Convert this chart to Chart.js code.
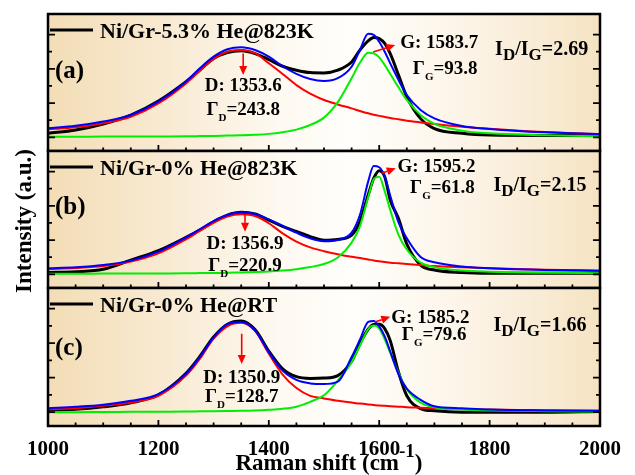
<!DOCTYPE html>
<html>
<head>
<meta charset="utf-8">
<script src="https://cdn.jsdelivr.net/npm/chart.js@4/dist/chart.umd.min.js"></script>
<style>
  html, body { margin: 0; padding: 0; background: #fff; }
  #wrap { position: relative; width: 635px; height: 475px; }
  #wrap canvas { position: absolute; left: 0; top: 0; }
</style>
</head>
<body>
<div id="wrap">
  <canvas id="panelA" width="635" height="475"></canvas>
  <canvas id="panelB" width="635" height="475"></canvas>
  <canvas id="panelC" width="635" height="475"></canvas>
</div>
<script>
// Raman shift sampling (cm-1)
const ramanShift = [1000, 1050, 1100, 1150, 1200, 1250, 1275, 1300, 1325, 1350, 1375, 1400, 1425, 1450, 1475,
  1500, 1525, 1550, 1565, 1580, 1590, 1600, 1610, 1620, 1635, 1650, 1675, 1700, 1750, 1800, 1900, 2000];

// (a) Ni/Gr-5.3% He@823K
const measA = [0.23, 0.43, 0.78, 1.30, 2.12, 3.25, 3.92, 4.60, 4.95, 5.05, 4.89, 4.54, 4.15, 3.92, 3.78,
  3.76, 3.92, 4.40, 5.09, 5.63, 5.83, 5.77, 5.48, 4.89, 3.63, 2.36, 1.09, 0.51, 0.23, 0.13, 0.11, 0.11];
const fitDA = [0.47, 0.58, 0.82, 1.20, 1.98, 3.15, 3.89, 4.57, 5.00, 5.10, 4.91, 4.32, 3.70, 3.05, 2.55,
  2.18, 1.92, 1.69, 1.54, 1.40, 1.32, 1.25, 1.19, 1.13, 1.05, 0.97, 0.87, 0.78, 0.62, 0.50, 0.31, 0.19];
const fitGA = [0.03, 0.03, 0.04, 0.04, 0.05, 0.06, 0.07, 0.08, 0.10, 0.12, 0.15, 0.20, 0.30, 0.45, 0.72,
  1.15, 2.05, 3.45, 4.35, 4.94, 4.90, 4.67, 4.22, 3.70, 2.92, 2.18, 1.30, 0.78, 0.39, 0.23, 0.12, 0.06];
const fitSumA = [0.53, 0.67, 0.92, 1.30, 2.08, 3.25, 4.03, 4.71, 5.14, 5.26, 5.10, 4.71, 4.15, 3.70, 3.40,
  3.29, 3.45, 4.12, 5.10, 6.04, 5.98, 5.58, 5.00, 4.32, 3.35, 2.47, 1.60, 1.11, 0.66, 0.49, 0.29, 0.19];

// (b) Ni/Gr-0% He@823K
const measB = [0.10, 0.15, 0.29, 0.83, 1.38, 2.16, 2.59, 3.07, 3.46, 3.62, 3.52, 3.17, 2.80, 2.50, 2.20,
  1.99, 2.04, 2.29, 3.07, 4.63, 5.60, 6.05, 5.70, 4.34, 3.25, 1.77, 0.54, 0.25, 0.10, 0.06, 0.06, 0.06];
const fitDB = [0.31, 0.37, 0.48, 0.74, 1.22, 2.04, 2.53, 3.01, 3.37, 3.50, 3.40, 2.98, 2.39, 1.91, 1.57,
  1.35, 1.17, 1.02, 0.95, 0.87, 0.81, 0.76, 0.72, 0.68, 0.64, 0.60, 0.54, 0.48, 0.41, 0.35, 0.27, 0.21];
const fitGB = [0.03, 0.03, 0.04, 0.04, 0.05, 0.06, 0.07, 0.08, 0.09, 0.11, 0.13, 0.16, 0.22, 0.30, 0.42,
  0.60, 0.98, 1.85, 2.80, 4.50, 5.55, 5.70, 4.85, 3.75, 2.30, 1.45, 0.68, 0.42, 0.22, 0.15, 0.09, 0.06];
const fitSumB = [0.35, 0.41, 0.54, 0.80, 1.32, 2.16, 2.63, 3.11, 3.46, 3.62, 3.52, 3.21, 2.82, 2.43, 2.10,
  1.93, 2.00, 2.43, 3.46, 5.41, 6.32, 6.25, 5.70, 4.59, 3.03, 2.10, 1.01, 0.70, 0.45, 0.35, 0.25, 0.21];

// (c) Ni/Gr-0% He@RT
const measC = [0.12, 0.17, 0.31, 0.54, 1.01, 2.26, 3.23, 4.36, 5.10, 5.29, 4.79, 3.54, 2.51, 2.06, 1.96,
  1.98, 2.12, 2.95, 3.97, 4.81, 5.08, 5.10, 4.85, 4.15, 2.32, 0.95, 0.21, 0.08, 0.00, 0.00, 0.00, 0.04];
const fitDC = [0.17, 0.23, 0.37, 0.56, 0.95, 2.12, 3.09, 4.26, 4.98, 5.18, 4.71, 3.39, 2.18, 1.40, 0.95,
  0.80, 0.66, 0.56, 0.50, 0.45, 0.42, 0.39, 0.37, 0.35, 0.32, 0.29, 0.26, 0.23, 0.17, 0.15, 0.12, 0.08];
const fitGC = [0.00, 0.00, 0.01, 0.02, 0.03, 0.04, 0.05, 0.06, 0.07, 0.08, 0.10, 0.14, 0.20, 0.32, 0.60,
  0.98, 1.83, 2.90, 3.85, 4.81, 5.02, 4.86, 4.22, 3.44, 2.28, 1.34, 0.56, 0.29, 0.15, 0.10, 0.06, 0.04];
const fitSumC = [0.23, 0.31, 0.43, 0.66, 1.05, 2.22, 3.19, 4.32, 5.10, 5.23, 4.75, 3.48, 2.41, 1.87, 1.67,
  1.63, 1.77, 3.20, 4.20, 5.23, 5.29, 4.98, 4.40, 3.52, 2.20, 1.36, 0.72, 0.35, 0.23, 0.15, 0.10, 0.08];

// fitted peak parameters
const sampleNames = ["Ni/Gr-5.3% He@823K", "Ni/Gr-0% He@823K", "Ni/Gr-0% He@RT"];
const panelTags = ["(a)", "(b)", "(c)"];
const dPeak = [1353.6, 1356.9, 1350.9];
const dFwhm = [243.8, 220.9, 128.7];
const gPeak = [1583.7, 1595.2, 1585.2];
const gFwhm = [93.8, 61.8, 79.6];
const idIg = [2.69, 2.15, 1.66];

const xTicks = [1000, 1200, 1400, 1600, 1800, 2000];

const SERIF = '"Liberation Serif", "Times New Roman", serif';
const font = (size) => "bold " + size + "px " + SERIF;

function pts(ys) {
  return ramanShift.map((x, i) => ({ x: x, y: ys[i] }));
}

// width of a run of [text, size, dy] pieces
function richWidth(ctx, parts) {
  let w = 0;
  parts.forEach((p) => { ctx.font = font(p[1]); w += ctx.measureText(p[0]).width; });
  return w;
}

function richText(ctx, parts, x, y, align) {
  let cx = align === "center" ? x - richWidth(ctx, parts) / 2 : x;
  parts.forEach((p) => {
    ctx.font = font(p[1]);
    ctx.fillText(p[0], cx, y + (p[2] || 0));
    cx += ctx.measureText(p[0]).width;
  });
}

function arrow(ctx, x1, y1, x2, y2) {
  const ang = Math.atan2(y2 - y1, x2 - x1);
  const head = 9, half = 4;
  const bx = x2 - head * Math.cos(ang), by = y2 - head * Math.sin(ang);
  ctx.strokeStyle = "#ff0000";
  ctx.fillStyle = "#ff0000";
  ctx.lineWidth = 1.6;
  ctx.beginPath();
  ctx.moveTo(x1, y1);
  ctx.lineTo(bx, by);
  ctx.stroke();
  ctx.beginPath();
  ctx.moveTo(x2, y2);
  ctx.lineTo(bx + half * Math.sin(ang), by - half * Math.cos(ang));
  ctx.lineTo(bx - half * Math.sin(ang), by + half * Math.cos(ang));
  ctx.closePath();
  ctx.fill();
}

const panelDecor = {
  id: "panelDecor",
  beforeDatasetsDraw(chart, args, o) {
    const { ctx, chartArea: a } = chart;
    const g = ctx.createLinearGradient(a.left, 0, a.right, 0);
    g.addColorStop(0, "rgb(243,221,182)");
    g.addColorStop(0.2, "rgb(248,233,208)");
    g.addColorStop(0.42, "rgb(254,249,241)");
    g.addColorStop(0.55, "rgb(255,254,251)");
    g.addColorStop(0.72, "rgb(253,246,235)");
    g.addColorStop(0.88, "rgb(249,236,215)");
    g.addColorStop(1, "rgb(245,227,194)");
    ctx.save();
    ctx.fillStyle = g;
    ctx.fillRect(a.left, a.top, a.right - a.left, a.bottom - a.top);
    ctx.restore();
  },
  afterDatasetsDraw(chart, args, o) {
    const { ctx, chartArea: a, scales: { x, y } } = chart;
    const i = o.index;
    ctx.save();

    // frame and inward ticks
    ctx.strokeStyle = "#000";
    ctx.lineWidth = 2.5;
    ctx.strokeRect(a.left, a.top, a.right - a.left, a.bottom - a.top);
    ctx.lineWidth = 1.8;
    ctx.beginPath();
    for (let v = x.min + 50; v < x.max; v += 50) {
      const px = x.getPixelForValue(v);
      const len = (v - x.min) % 200 === 0 ? 6 : 3.5;
      ctx.moveTo(px, a.bottom);
      ctx.lineTo(px, a.bottom - len);
    }
    for (let v = 0; v <= 6; v++) {
      const py = y.getPixelForValue(v);
      const len = v % 2 === 0 ? 7 : 4;
      ctx.moveTo(a.left, py);
      ctx.lineTo(a.left + len, py);
      ctx.moveTo(a.right, py);
      ctx.lineTo(a.right - len, py);
    }
    ctx.stroke();

    // legend entry
    ctx.fillStyle = "#000";
    ctx.textBaseline = "alphabetic";
    ctx.textAlign = "left";
    ctx.lineWidth = 3;
    ctx.beginPath();
    ctx.moveTo(a.left + 2, a.top + o.legendY - 8);
    ctx.lineTo(a.left + 45, a.top + o.legendY - 8);
    ctx.stroke();
    ctx.font = font(22);
    ctx.fillText(chart.data.datasets[3].label, a.left + 52, a.top + o.legendY);
    ctx.font = font(25);
    ctx.fillText(panelTags[i], a.left + 7, a.top + o.tagY);

    // D band
    const dx = x.getPixelForValue(dPeak[i]);
    arrow(ctx, dx, y.getPixelForValue(o.dArrow[0]), dx, y.getPixelForValue(o.dArrow[1]));
    ctx.fillStyle = "#000";
    richText(ctx, [["D: " + dPeak[i].toFixed(1), 19]], dx, a.top + o.dY, "center");
    richText(ctx, [["\u0393", 19], ["D", 11, 6], ["=" + dFwhm[i].toFixed(1), 19]], dx, a.top + o.dwY, "center");

    // G band
    arrow(ctx, x.getPixelForValue(o.gArrow[0]), y.getPixelForValue(o.gArrow[1]),
      x.getPixelForValue(o.gArrow[2]), y.getPixelForValue(o.gArrow[3]));
    ctx.fillStyle = "#000";
    richText(ctx, [["G: " + gPeak[i].toFixed(1), 19]], x.getPixelForValue(o.gX), a.top + o.gY, "left");
    richText(ctx, [["\u0393", 19], ["G", 11, 6], ["=" + gFwhm[i].toFixed(1), 19]],
      x.getPixelForValue(o.gwX), a.top + o.gwY, "left");

    // intensity ratio
    richText(ctx, [["I", 20], ["D", 17, 5], ["/I", 20], ["G", 17, 5], ["=" + idIg[i].toFixed(2), 20]],
      x.getPixelForValue(o.rX), a.top + o.rY, "left");

    // shared axis titles
    if (o.axisTitles) {
      ctx.fillStyle = "#000";
      const title = [["Raman shift (cm", 23], ["-1", 19, -13], [")", 23]];
      richText(ctx, title, 329, 470, "center");

      ctx.translate(25, 221);
      ctx.rotate(-Math.PI / 2);
      ctx.font = font(23);
      ctx.textAlign = "center";
      ctx.textBaseline = "middle";
      ctx.fillText("Intensity (a.u.)", 0, 0);
    }
    ctx.restore();
  }
};

function makePanel(id, i, meas, fitD, fitG, fitSum, padTop, padBottom, bottomAxis, annot) {
  const xScale = {
    type: "linear",
    min: 1000,
    max: 2000,
    display: bottomAxis,
    grid: { display: false },
    border: { display: false },
    ticks: {
      stepSize: 200,
      autoSkip: false,
      padding: 5,
      color: "#000",
      font: { family: SERIF, weight: "bold", size: 21, lineHeight: 1 },
      callback: (v) => (xTicks.includes(v) ? String(v) : "")
    }
  };
  if (bottomAxis) {
    xScale.afterFit = (s) => { s.height = 49; };
  }
  return new Chart(document.getElementById(id), {
    type: "line",
    data: {
      datasets: [
        { label: "Sum", data: pts(fitSum), borderColor: "#0000ff", borderWidth: 2, order: 1 },
        { label: "G", data: pts(fitG), borderColor: "#00ee00", borderWidth: 2, order: 2 },
        { label: "D", data: pts(fitD), borderColor: "#ff0000", borderWidth: 2, order: 3 },
        { label: sampleNames[i], data: pts(meas), borderColor: "#000000", borderWidth: 3, order: 4 }
      ]
    },
    options: {
      responsive: false,
      animation: false,
      events: [],
      elements: {
        point: { radius: 0 },
        line: { cubicInterpolationMode: "monotone", fill: false }
      },
      layout: { padding: { left: 48, right: 35, top: padTop, bottom: padBottom } },
      plugins: {
        legend: { display: false },
        tooltip: { enabled: false },
        panelDecor: Object.assign({ index: i }, annot)
      },
      scales: {
        x: xScale,
        y: { type: "linear", min: -0.8, max: 7.2, display: false }
      }
    },
    plugins: [panelDecor]
  });
}

makePanel("panelA", 0, measA, fitDA, fitGA, fitSumA, 14, 324, false, {
  legendY: 24, tagY: 64, dArrow: [4.9, 3.64], dY: 77, dwY: 101,
  gArrow: [1589, 4.98, 1629, 5.39], gX: 1638, gY: 34, gwX: 1661, gwY: 60, rX: 1810, rY: 41
});
makePanel("panelB", 1, measB, fitDB, fitGB, fitSumB, 151, 187, false, {
  legendY: 24, tagY: 63, dArrow: [3.46, 2.49], dY: 98, dwY: 120,
  gArrow: [1604.5, 5.9, 1630, 6.19], gX: 1633, gY: 21, gwX: 1656, gwY: 42, rX: 1807, rY: 40
});
makePanel("panelC", 2, measC, fitDC, fitGC, fitSumC, 288, 0, true, {
  legendY: 24, tagY: 67, dArrow: [4.55, 2.8], dY: 95, dwY: 114,
  gArrow: [1592, 5.23, 1620, 5.53], gX: 1622, gY: 35, gwX: 1641, gwY: 52, rX: 1807, rY: 43,
  axisTitles: true
});
</script>
</body>
</html>
